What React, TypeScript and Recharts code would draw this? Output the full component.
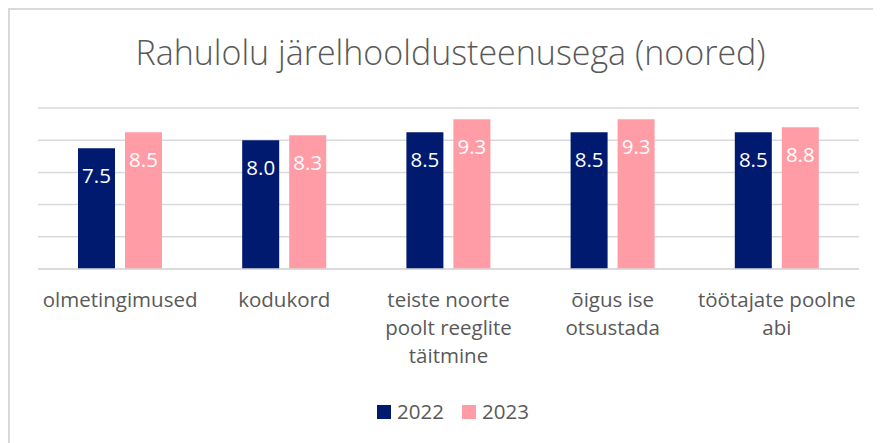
import React from "react";
import { BarChart, Bar, XAxis, YAxis, CartesianGrid, LabelList, Legend } from "recharts";

const CATEGORIES = [
  "olmetingimused",
  "kodukord",
  "teiste noorte poolt reeglite täitmine",
  "õigus ise otsustada",
  "töötajate poolne abi",
];
const VALUES_2022 = [7.5, 8.0, 8.5, 8.5, 8.5];
const VALUES_2023 = [8.5, 8.3, 9.3, 9.3, 8.8];
const Y_TICKS = [0, 2, 4, 6, 8, 10];
const SERIES = [
  { key: "y2022", name: "2022", color: "#001A70" },
  { key: "y2023", name: "2023", color: "#FF9CA5" },
];

const FONT = "'Open Sans', 'Noto Sans', sans-serif";
const TEXT_GREY = "#595959";
const GRID = "#d9d9d9";
const TICK_SIZE = 20.5;
const BAND = 164;

const data = CATEGORIES.map((name, i) => ({
  name,
  y2022: VALUES_2022[i],
  y2023: VALUES_2023[i],
}));

// greedy word wrap into the category band, measured with canvas
let ctx: CanvasRenderingContext2D | null = null;
function wrap(label: string, maxWidth: number): string[] {
  if (!ctx) {
    ctx = document.createElement("canvas").getContext("2d");
  }
  if (!ctx) return [label];
  ctx.font = `${TICK_SIZE}px 'Open Sans'`;
  const lines: string[] = [];
  let cur = "";
  for (const w of label.split(" ")) {
    const test = cur ? cur + " " + w : w;
    if (cur && ctx.measureText(test).width > maxWidth) {
      lines.push(cur);
      cur = w;
    } else {
      cur = test;
    }
  }
  if (cur) lines.push(cur);
  return lines;
}

function CategoryTick(props: any) {
  const { x, y, payload } = props;
  const lines = wrap(String(payload.value), BAND);
  return (
    <text
      x={x}
      y={y + 30}
      textAnchor="middle"
      fill={TEXT_GREY}
      style={{ fontSize: TICK_SIZE, fontFamily: FONT }}
    >
      {lines.map((l, i) => (
        <tspan key={i} x={x} dy={i === 0 ? 0 : 28}>
          {l}
        </tspan>
      ))}
    </text>
  );
}

function LegendRow() {
  return (
    <div
      style={{
        display: "flex",
        justifyContent: "center",
        alignItems: "center",
        paddingLeft: 17,
        fontFamily: FONT,
        fontSize: 20.5,
        lineHeight: "20px",
        color: TEXT_GREY,
      }}
    >
      {SERIES.map((s, i) => (
        <div key={s.key} style={{ display: "flex", alignItems: "center", marginLeft: i ? 18 : 0 }}>
          <span style={{ width: 14, height: 14, marginTop: 2, background: s.color, marginRight: 6 }} />
          <span>{s.name}</span>
        </div>
      ))}
    </div>
  );
}

export default function App() {
  return (
    <div style={{ position: "relative", width: 873, height: 435 }}>
      <div
        style={{
          position: "absolute",
          left: 0,
          top: 0,
          width: 873,
          height: 435,
          borderTop: `2px solid ${GRID}`,
          borderLeft: `2px solid ${GRID}`,
          boxSizing: "border-box",
        }}
      />
      <div
        style={{
          position: "absolute",
          top: 21,
          left: 6,
          width: 873,
          textAlign: "center",
          fontFamily: FONT,
          fontWeight: 300,
          fontSize: 34,
          color: TEXT_GREY,
          whiteSpace: "nowrap",
        }}
      >
        Rahulolu järelhooldusteenusega (noored)
      </div>
      <BarChart
        width={873}
        height={435}
        data={data}
        margin={{ top: 100, right: 22, left: 30, bottom: 0 }}
        barSize={37}
        barGap={10}
      >
        <CartesianGrid vertical={false} stroke={GRID} strokeWidth={1.5} />
        <XAxis
          dataKey="name"
          height={174}
          interval={0}
          axisLine={{ stroke: GRID, strokeWidth: 1.5 }}
          tickLine={false}
          tick={<CategoryTick />}
        />
        <YAxis hide domain={[0, 10]} ticks={Y_TICKS} />
        <Legend
          verticalAlign="middle"
          align="center"
          wrapperStyle={{ top: 393, left: 0, width: 873 }}
          content={() => <LegendRow />}
        />
        {SERIES.map((s) => (
          <Bar key={s.key} dataKey={s.key} name={s.name} fill={s.color} isAnimationActive={false}>
            <LabelList
              dataKey={s.key}
              position="insideTop"
              offset={20}
              fill="#ffffff"
              formatter={(v: any) => Number(v).toFixed(1)}
              style={{ fontSize: 20.5, fontFamily: FONT }}
            />
          </Bar>
        ))}
      </BarChart>
    </div>
  );
}
